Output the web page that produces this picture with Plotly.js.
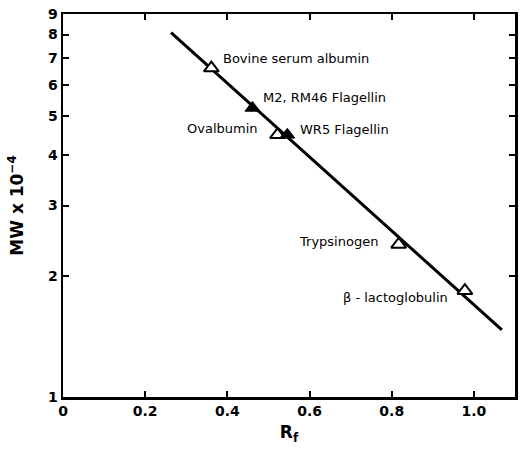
<!DOCTYPE html>
<html>
<head>
<meta charset="utf-8">
<script src="https://cdn.plot.ly/plotly-3.0.1.min.js"></script>
<style>html,body{margin:0;padding:0;background:#fff;}#chart{width:524px;height:451px;}</style>
</head>
<body>
<div id="chart"></div>
<script>
// Data
var proteins = ["Bovine serum albumin", "M2, RM46 Flagellin", "Ovalbumin", "WR5 Flagellin", "Trypsinogen", "\u03B2 - lactoglobulin"];
var rf = [0.361, 0.461, 0.522, 0.546, 0.817, 0.978];
var mw = [6.6, 5.25, 4.5, 4.5, 2.4, 1.84];
var filled = [false, true, false, true, false, false];
var fitX = [0.263, 1.068];
var fitY = [8.09, 1.47];
var xTickVals = [0, 0.2, 0.4, 0.6, 0.8, 1.0];
var xTickText = ["0", "0.2", "0.4", "0.6", "0.8", "1.0"];
var yTickVals = [1, 2, 3, 4, 5, 6, 7, 8, 9];
var yTickText = ["1", "2", "3", "4", "5", "6", "7", "8", "9"];

// label placement (pixel offsets from each point)
var labelAnchor = ["left", "left", "right", "left", "right", "right"];
var labelDx = [10, 9, -17, 11, -19, -15];
var labelDy = [10, 10, 6, 5, 3, -7];

var openX = [], openY = [], fillX = [], fillY = [];
for (var i = 0; i < rf.length; i++) {
  if (filled[i]) { fillX.push(rf[i]); fillY.push(mw[i]); }
  else { openX.push(rf[i]); openY.push(mw[i]); }
}

var traces = [
  {x: fitX, y: fitY, mode: "lines", line: {color: "#000", width: 3}, hoverinfo: "skip"},
  {x: openX, y: openY, mode: "markers", marker: {symbol: "triangle-up", size: 13, color: "#fff", line: {color: "#000", width: 2}}},
  {x: fillX, y: fillY, mode: "markers", marker: {symbol: "triangle-up", size: 13, color: "#000", line: {color: "#000", width: 1}}}
];

var ann = [];
for (var j = 0; j < proteins.length; j++) {
  ann.push({
    x: rf[j], y: Math.log10(mw[j]), xref: "x", yref: "y",
    text: proteins[j], showarrow: false,
    xanchor: labelAnchor[j], yanchor: "middle",
    xshift: labelDx[j], yshift: labelDy[j],
    font: {family: "DejaVu Sans", size: 13, color: "#000"}
  });
}

var axisCommon = {
  showline: true, linecolor: "#000", linewidth: 2.5, mirror: "ticks",
  ticks: "inside", ticklen: 6, tickwidth: 2, tickcolor: "#000",
  showgrid: false, zeroline: false,
  tickfont: {family: "DejaVu Sans", size: 14, color: "#000", weight: "bold"}
};

var layout = {
  width: 524, height: 451,
  margin: {l: 63, r: 9, t: 14, b: 54},
  paper_bgcolor: "#fff", plot_bgcolor: "#fff",
  showlegend: false,
  xaxis: Object.assign({}, axisCommon, {
    range: [0, 1.10], tickvals: xTickVals, ticktext: xTickText,
    title: {text: "R<sub>f</sub>", standoff: 8, font: {family: "DejaVu Sans", size: 17, color: "#000", weight: "bold"}}
  }),
  yaxis: Object.assign({}, axisCommon, {
    type: "log", range: [0, Math.log10(9)], tickvals: yTickVals, ticktext: yTickText,
    title: {text: "MW x 10<sup>\u22124</sup>", standoff: 20, font: {family: "DejaVu Sans", size: 17, color: "#000", weight: "bold"}}
  }),
  annotations: ann
};

Plotly.newPlot("chart", traces, layout, {displayModeBar: false, staticPlot: true});
</script>
</body>
</html>
